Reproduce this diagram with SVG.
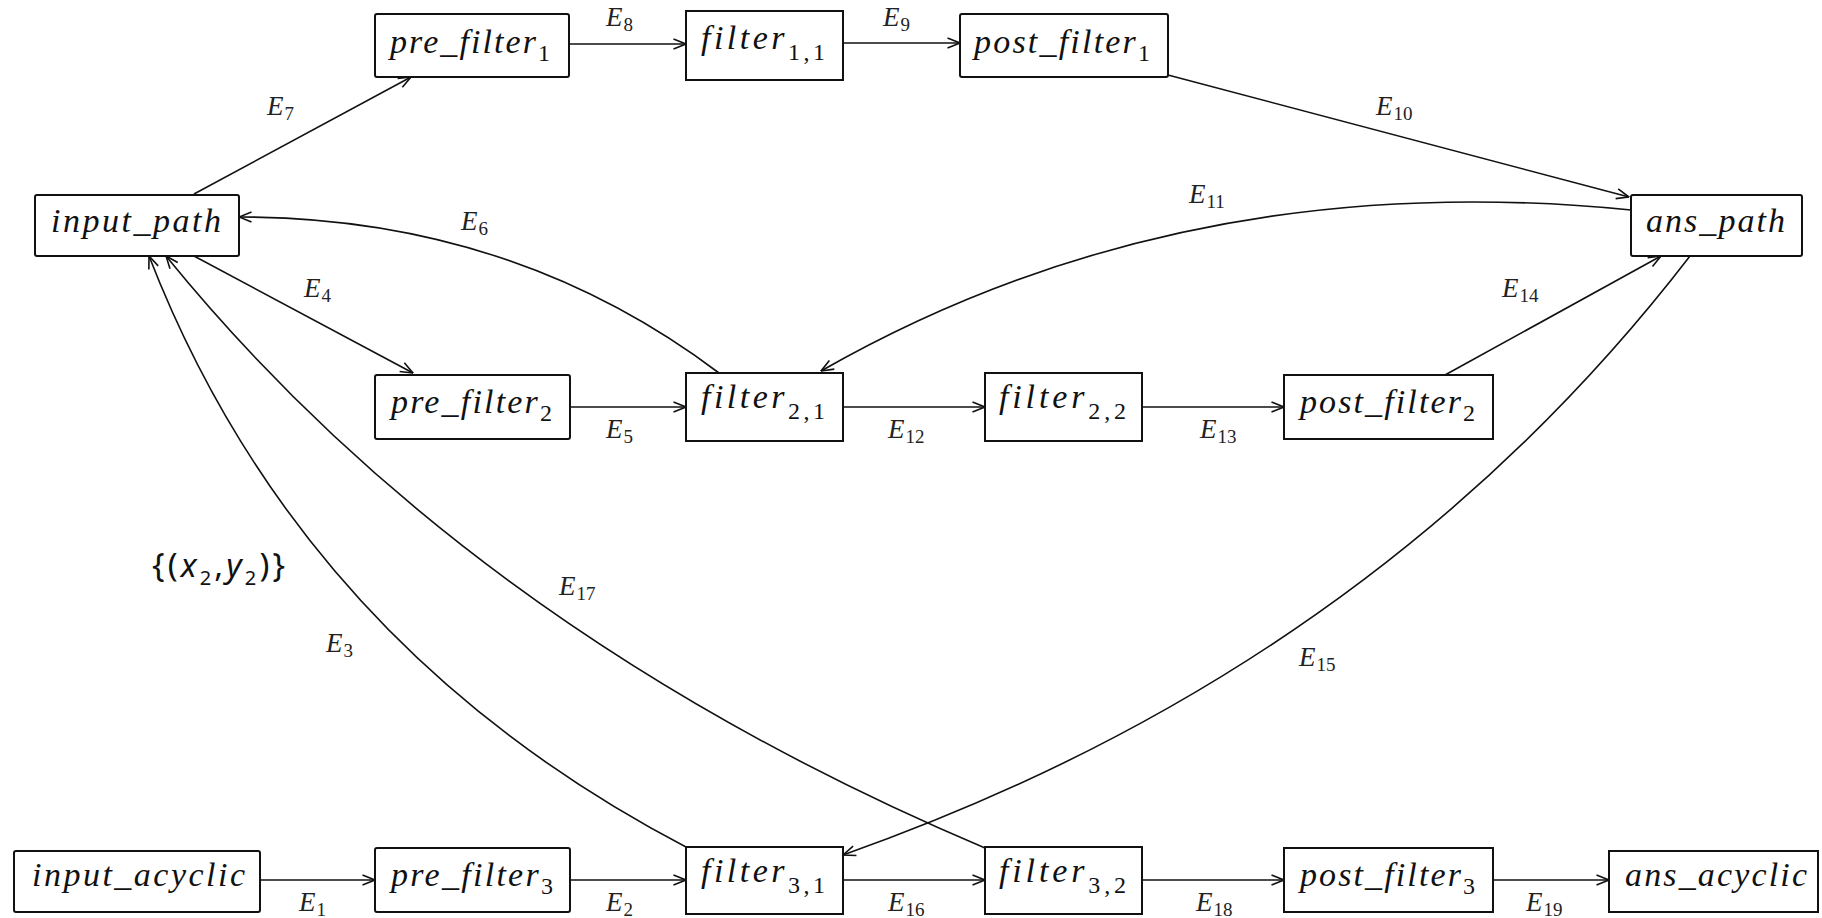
<svg xmlns="http://www.w3.org/2000/svg" width="1822" height="918" viewBox="0 0 1822 918">
<style>
.box{fill:#fff;stroke:#111;stroke-width:2}
.nt{font-family:"Liberation Serif","Times New Roman",serif;font-style:italic;font-size:34px;fill:#111}
.sub{font-style:normal;font-size:24px}
.lb{font-family:"Liberation Serif","Times New Roman",serif;font-style:italic;font-size:27px;fill:#222}
.ls{font-style:normal;font-size:19px}
.e{fill:none;stroke:#111;stroke-width:1.6;marker-end:url(#arr)}
.misc{font-family:"Noto Sans","Open Sans",sans-serif;font-size:33px;fill:#111}
</style>
<defs>
<marker id="arr" markerUnits="userSpaceOnUse" viewBox="0 0 14 12" refX="13.5" refY="6" markerWidth="14" markerHeight="12" orient="auto">
<path d="M1,1 L13.5,6 L1,11" fill="none" stroke="#111" stroke-width="1.6"/>
</marker>
</defs>
<rect width="1822" height="918" fill="#fff"/>

<g id="connectors">
<path class="e" d="M194,194 L411,77"/>
<path class="e" d="M569,44 L686,44"/>
<path class="e" d="M843,43 L960,43"/>
<path class="e" d="M1168,75 L1629,197"/>
<path class="e" d="M1631,210 Q1182,165 821,371"/>
<path class="e" d="M719,373 Q512,217 239,217"/>
<path class="e" d="M194,256 L413,373"/>
<path class="e" d="M570,407 L686,407"/>
<path class="e" d="M843,407 L985,407"/>
<path class="e" d="M1142,407 L1284,407"/>
<path class="e" d="M1445,375 L1661,256"/>
<path class="e" d="M1690,256 Q1373,668 843,855"/>
<path class="e" d="M686,847 Q300,645 149,256"/>
<path class="e" d="M985,848 Q470,630 166,256"/>
<path class="e" d="M260,880 L375,880"/>
<path class="e" d="M570,880 L686,880"/>
<path class="e" d="M843,880 L985,880"/>
<path class="e" d="M1142,880 L1284,880"/>
<path class="e" d="M1493,880 L1609,880"/>
</g>

<g id="edge-labels">
<text class="lb" x="267" y="115">E<tspan class="ls" dx="1" dy="5">7</tspan></text>
<text class="lb" x="606" y="26">E<tspan class="ls" dx="1" dy="5">8</tspan></text>
<text class="lb" x="883" y="26">E<tspan class="ls" dx="1" dy="5">9</tspan></text>
<text class="lb" x="1376" y="115">E<tspan class="ls" dx="1" dy="5">10</tspan></text>
<text class="lb" x="1189" y="203">E<tspan class="ls" dx="1" dy="5">11</tspan></text>
<text class="lb" x="461" y="230">E<tspan class="ls" dx="1" dy="5">6</tspan></text>
<text class="lb" x="304" y="297">E<tspan class="ls" dx="1" dy="5">4</tspan></text>
<text class="lb" x="606" y="438">E<tspan class="ls" dx="1" dy="5">5</tspan></text>
<text class="lb" x="888" y="438">E<tspan class="ls" dx="1" dy="5">12</tspan></text>
<text class="lb" x="1200" y="438">E<tspan class="ls" dx="1" dy="5">13</tspan></text>
<text class="lb" x="1502" y="297">E<tspan class="ls" dx="1" dy="5">14</tspan></text>
<text class="lb" x="559" y="595">E<tspan class="ls" dx="1" dy="5">17</tspan></text>
<text class="lb" x="326" y="652">E<tspan class="ls" dx="1" dy="5">3</tspan></text>
<text class="lb" x="1299" y="666">E<tspan class="ls" dx="1" dy="5">15</tspan></text>
<text class="lb" x="299" y="911">E<tspan class="ls" dx="1" dy="5">1</tspan></text>
<text class="lb" x="606" y="911">E<tspan class="ls" dx="1" dy="5">2</tspan></text>
<text class="lb" x="888" y="911">E<tspan class="ls" dx="1" dy="5">16</tspan></text>
<text class="lb" x="1196" y="911">E<tspan class="ls" dx="1" dy="5">18</tspan></text>
<text class="lb" x="1526" y="911">E<tspan class="ls" dx="1" dy="5">19</tspan></text>
</g>

<g id="pre_filter1"><rect class="box" x="375" y="14" width="194" height="63" rx="2"/><text class="nt" x="390" y="53" textLength="160">pre_filter<tspan class="sub" dy="8">1</tspan></text></g>
<g id="filter11"><rect class="box" x="686" y="11" width="157" height="69"/><text class="nt" x="701" y="49" textLength="124">filter<tspan class="sub" dy="11">1,1</tspan></text></g>
<g id="post_filter1"><rect class="box" x="960" y="14" width="208" height="63" rx="2"/><text class="nt" x="974" y="53" textLength="176">post_filter<tspan class="sub" dy="8">1</tspan></text></g>

<g id="input_path"><rect class="box" x="35" y="195" width="204" height="61" rx="2"/><text class="nt" x="51" y="232" textLength="170">input_path</text></g>
<g id="ans_path"><rect class="box" x="1631" y="195" width="171" height="61" rx="2"/><text class="nt" x="1646" y="232" textLength="139">ans_path</text></g>

<g id="pre_filter2"><rect class="box" x="375" y="375" width="195" height="64" rx="2"/><text class="nt" x="391" y="413" textLength="161">pre_filter<tspan class="sub" dy="8">2</tspan></text></g>
<g id="filter21"><rect class="box" x="686" y="373" width="157" height="68"/><text class="nt" x="701" y="408" textLength="124">filter<tspan class="sub" dy="11">2,1</tspan></text></g>
<g id="filter22"><rect class="box" x="985" y="373" width="157" height="68"/><text class="nt" x="999" y="408" textLength="127">filter<tspan class="sub" dy="11">2,2</tspan></text></g>
<g id="post_filter2"><rect class="box" x="1284" y="375" width="209" height="64"/><text class="nt" x="1300" y="413" textLength="175">post_filter<tspan class="sub" dy="8">2</tspan></text></g>

<g id="input_acyclic"><rect class="box" x="14" y="851" width="246" height="61" rx="2"/><text class="nt" x="32" y="886" textLength="213">input_acyclic</text></g>
<g id="pre_filter3"><rect class="box" x="375" y="848" width="195" height="64" rx="2"/><text class="nt" x="391" y="886" textLength="162">pre_filter<tspan class="sub" dy="8">3</tspan></text></g>
<g id="filter31"><rect class="box" x="686" y="847" width="157" height="67"/><text class="nt" x="701" y="882" textLength="124">filter<tspan class="sub" dy="11">3,1</tspan></text></g>
<g id="filter32"><rect class="box" x="985" y="847" width="157" height="67"/><text class="nt" x="999" y="882" textLength="127">filter<tspan class="sub" dy="11">3,2</tspan></text></g>
<g id="post_filter3"><rect class="box" x="1284" y="848" width="209" height="64"/><text class="nt" x="1300" y="886" textLength="175">post_filter<tspan class="sub" dy="8">3</tspan></text></g>
<g id="ans_acyclic"><rect class="box" x="1609" y="851" width="209" height="61"/><text class="nt" x="1625" y="886" textLength="182">ans_acyclic</text></g>

<text class="misc" x="152" y="577" textLength="133">{(<tspan font-style="italic">x</tspan><tspan font-size="20" dy="8">2</tspan><tspan dy="-8">,</tspan><tspan font-style="italic">y</tspan><tspan font-size="20" dy="8">2</tspan><tspan dy="-8">)}</tspan></text>
</svg>
